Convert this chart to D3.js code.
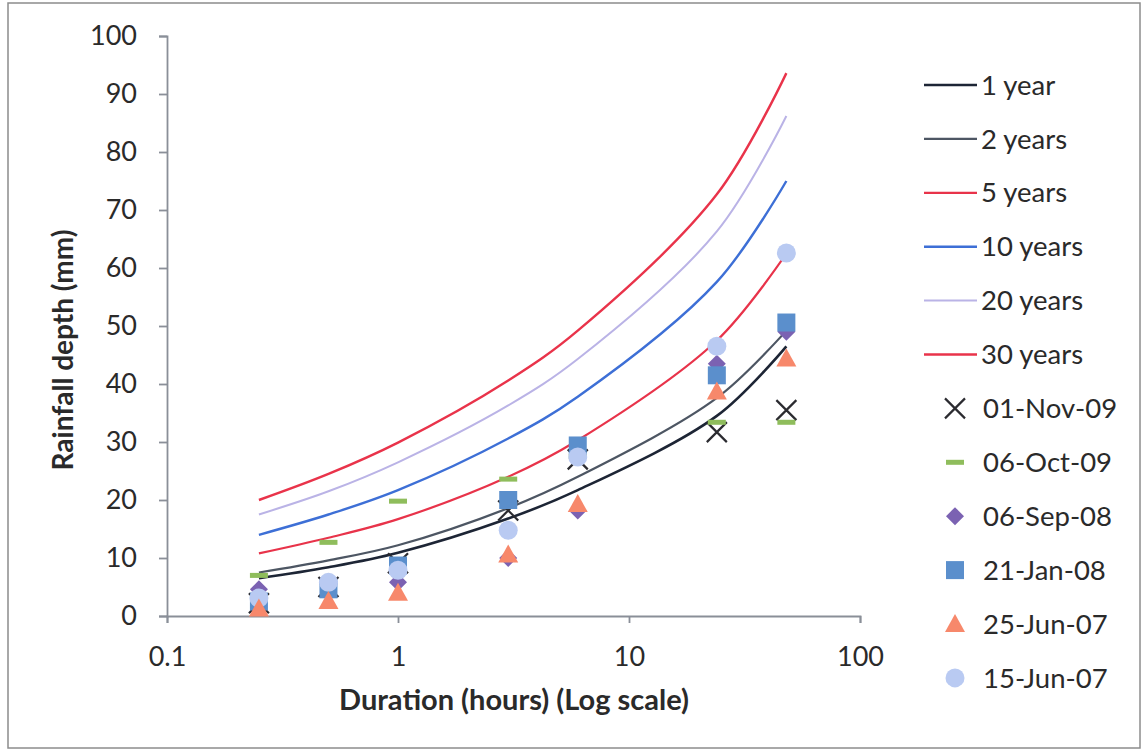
<!DOCTYPE html>
<html><head><meta charset="utf-8">
<script src="https://cdn.jsdelivr.net/npm/d3@7"></script>
<style>
html,body{margin:0;padding:0;background:#fff;}
svg{display:block;font-family:Lato,"Open Sans",sans-serif;}
</style></head>
<body>
<svg id="chart" width="1146" height="754"></svg>
<script>
// ---- data ----
const durations = [0.25, 0.5, 1, 3, 6, 24, 48];
const xTickValues = [0.1, 1, 10, 100];
const xTickLabels = ["0.1", "1", "10", "100"];
const yTickValues = [0, 10, 20, 30, 40, 50, 60, 70, 80, 90, 100];

const curveNames = ["1 year", "2 years", "5 years", "10 years", "20 years", "30 years"];
const year1  = [6.5, 8.4, 10.9, 16.8, 21.7, 34.5, 46.5];
const year2  = [7.5, 9.6, 12.2, 18.6, 24.0, 37.6, 49.2];
const year5  = [10.8, 13.5, 16.7, 24.0, 30.3, 47.5, 62.5];
const year10 = [14.0, 17.5, 21.7, 30.6, 37.8, 57.6, 75.0];
const year20 = [17.5, 21.5, 26.5, 36.3, 44.3, 66.3, 86.2];
const year30 = [20.0, 24.5, 29.9, 40.6, 49.2, 72.7, 93.6];
const curveValues = [year1, year2, year5, year10, year20, year30];

const eventNames = ["01-Nov-09", "06-Oct-09", "06-Sep-08", "21-Jan-08", "25-Jun-07", "15-Jun-07"];
const nov09 = [2.2, 5.0, 9.1, 18.2, 27.0, 31.7, 35.5];
const oct09 = [7.0, 12.7, 19.8, 23.6, 27.5, 33.4, 33.4];
const sep08 = [4.6, 5.5, 5.8, 10.0, 18.2, 43.5, 49.0];
const jan08 = [2.5, 4.6, 8.7, 20.0, 29.4, 41.5, 50.6];
const jun25 = [1.3, 2.6, 4.0, 10.6, 19.3, 38.7, 44.4];
const jun15 = [3.1, 5.8, 7.9, 14.8, 27.4, 46.5, 62.6];
const eventValues = [nov09, oct09, sep08, jan08, jun25, jun15];

// ---- styles ----
const curveColors = ["#1d2535", "#4d5663", "#e8334a", "#3d6fd6", "#bab3e6", "#e9334a"];
const curveWidths = [2.6, 2.2, 2.2, 2.4, 2.0, 2.4];
const eventColors = ["#2b2b30", "#8fbd5c", "#7b62b2", "#5b8fcc", "#f7886b", "#b9caf2"];
const txt = "#2a2a2a";

const svg = d3.select("#chart");
const m = {left: 167, right: 860, top: 36, bottom: 616};

// frame
svg.append("rect").attr("x", 8).attr("y", 3).attr("width", 1132).attr("height", 745)
  .attr("fill", "none").attr("stroke", "#8c8c8c").attr("stroke-width", 1.5);

const x = d3.scaleLog().domain([0.1, 100]).range([m.left, m.right]);
const y = d3.scaleLinear().domain([0, 100]).range([m.bottom, m.top]);

// y axis
const yAxis = svg.append("g").attr("transform", `translate(${m.left},0)`)
  .call(d3.axisLeft(y).tickValues(yTickValues).tickSize(8).tickPadding(22).tickFormat(d3.format("d")));
yAxis.select(".domain").attr("stroke", "#8a8f98").attr("stroke-width", 1.8);
yAxis.selectAll(".tick line").attr("stroke", "#8a8f98").attr("stroke-width", 1.8);
yAxis.selectAll(".tick text").attr("font-size", 27).attr("fill", txt)
  .attr("font-family", "Lato, sans-serif");

// x axis
const xAxis = svg.append("g").attr("transform", `translate(0,${m.bottom})`)
  .call(d3.axisBottom(x).tickValues(xTickValues).tickSize(7).tickPadding(24)
    .tickFormat((d, i) => xTickLabels[i]));
xAxis.select(".domain").attr("stroke", "#8a8f98").attr("stroke-width", 1.8);
xAxis.selectAll(".tick line").attr("stroke", "#8a8f98").attr("stroke-width", 1.8);
xAxis.selectAll(".tick text").attr("font-size", 27).attr("fill", txt)
  .attr("font-family", "Lato, sans-serif");

// axis titles
svg.append("text").attr("x", 514).attr("y", 710).attr("text-anchor", "middle")
  .attr("font-size", 29).attr("font-weight", "bold").attr("fill", txt)
  .text("Duration (hours) (Log scale)");
svg.append("text").attr("transform", "translate(73,350) rotate(-90)").attr("text-anchor", "middle")
  .attr("font-size", 28).attr("font-weight", "bold").attr("fill", txt)
  .text("Rainfall depth (mm)");

// curves
const line = d3.line().x((d, i) => x(durations[i])).y(d => y(d)).curve(d3.curveCatmullRom.alpha(0.5));
curveValues.forEach((vals, k) => {
  svg.append("path").attr("d", line(vals)).attr("fill", "none")
    .attr("stroke", curveColors[k]).attr("stroke-width", curveWidths[k]);
});

// marker drawing
function drawMarker(g, type, cx, cy, color) {
  if (type === 0) {
    const s = 10;
    g.append("path").attr("d", `M${cx-s},${cy-s}L${cx+s},${cy+s}M${cx-s},${cy+s}L${cx+s},${cy-s}`)
      .attr("stroke", color).attr("stroke-width", 2.2).attr("fill", "none");
  } else if (type === 1) {
    g.append("rect").attr("x", cx - 9).attr("y", cy - 2.5).attr("width", 18).attr("height", 5)
      .attr("fill", color);
  } else if (type === 2) {
    const s = 9;
    g.append("path").attr("d", `M${cx},${cy-s}L${cx+s},${cy}L${cx},${cy+s}L${cx-s},${cy}Z`).attr("fill", color);
  } else if (type === 3) {
    g.append("rect").attr("x", cx - 9).attr("y", cy - 9).attr("width", 18).attr("height", 18).attr("fill", color);
  } else if (type === 4) {
    g.append("path").attr("d", `M${cx},${cy-10}L${cx+10},${cy+8}L${cx-10},${cy+8}Z`).attr("fill", color);
  } else {
    g.append("circle").attr("cx", cx).attr("cy", cy).attr("r", 9.5).attr("fill", color);
  }
}

const drawOrder = [0, 1, 2, 3, 5, 4];
const mg = svg.append("g");
drawOrder.forEach(k => {
  eventValues[k].forEach((v, i) => drawMarker(mg, k, x(durations[i]), y(v), eventColors[k]));
});

// legend
const lg = svg.append("g");
const legY0 = 85, legStep = 53.9;
curveNames.forEach((name, k) => {
  const yy = legY0 + k * legStep;
  lg.append("line").attr("x1", 924).attr("x2", 977).attr("y1", yy).attr("y2", yy)
    .attr("stroke", curveColors[k]).attr("stroke-width", curveWidths[k]);
  lg.append("text").attr("x", 981).attr("y", yy).attr("dy", "0.35em").attr("font-size", 27.5)
    .attr("fill", txt).text(name);
});
eventNames.forEach((name, k) => {
  const yy = legY0 + (k + 6) * legStep;
  drawMarker(lg, k, 955, yy, eventColors[k]);
  lg.append("text").attr("x", 983).attr("y", yy).attr("dy", "0.35em").attr("font-size", 27.5)
    .attr("fill", txt).text(name);
});
</script>
</body></html>
